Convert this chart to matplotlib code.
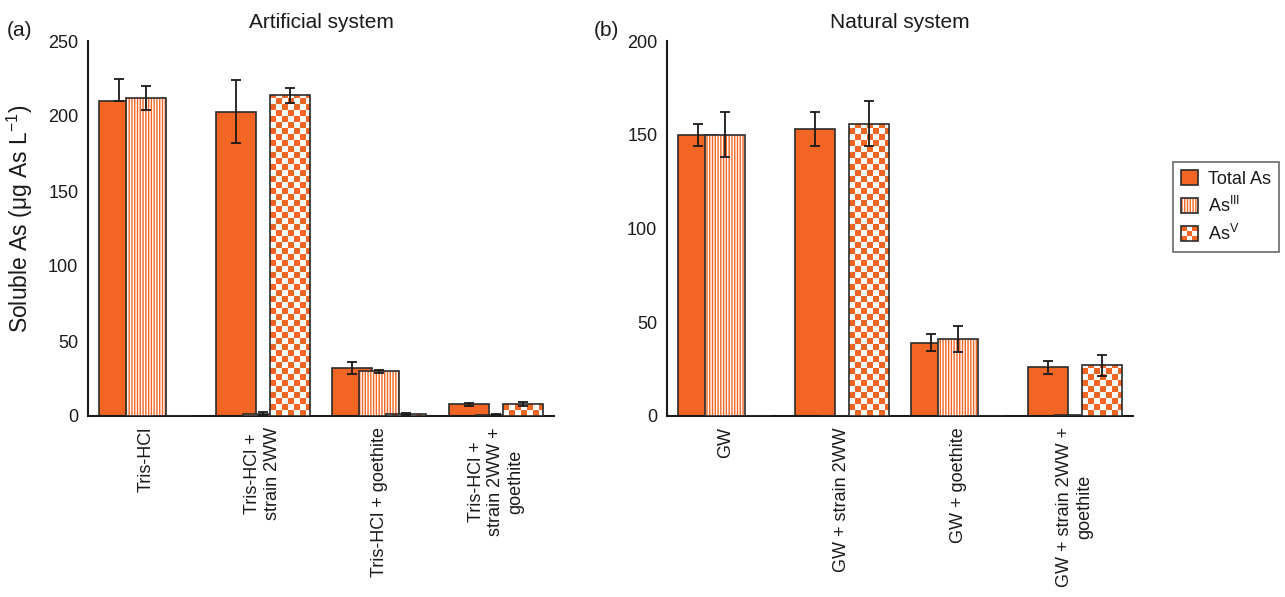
import numpy as np
import matplotlib
matplotlib.use('Agg')
import matplotlib.pyplot as plt
from matplotlib.colors import ListedColormap
from matplotlib.patches import Patch, Rectangle
from matplotlib.legend_handler import HandlerBase

plt.rcParams['font.family'] = ['Liberation Sans', 'DejaVu Sans']
plt.rcParams['mathtext.fontset'] = 'custom'
plt.rcParams['mathtext.rm'] = 'Liberation Sans'
plt.rcParams['hatch.linewidth'] = 1.0

ORANGE = '#f26522'
EDGE = '#2b2b2b'
INK = '#1a1a1a'

# (a) artificial system
cats_a = ['Tris-HCl', 'Tris-HCl +\nstrain 2WW', 'Tris-HCl + goethite',
          'Tris-HCl +\nstrain 2WW +\ngoethite']
total_a = [210, 203, 32, 8]
total_a_err = [[0, 21, 4, 1], [15, 21, 4, 1]]   # lower, upper
as3_a = [212, 1.5, 30, 1]
as3_a_err = [8, 1, 1, 0.5]
as5_a = [0, 214, 1.5, 8]
as5_a_err = [0, 5, 0.5, 1.5]

# (b) natural system
cats_b = ['GW', 'GW + strain 2WW', 'GW + goethite',
          'GW + strain 2WW +\ngoethite']
total_b = [150, 153, 39, 26]
total_b_err = [6, 9, 4.5, 3.5]
as3_b = [150, 0, 41, 0.5]
as3_b_err = [12, 0, 7, 0]
as5_b = [0, 156, 0, 27]
as5_b_err = [0, 12, 0, 5.5]

labels = ['Total As', r'As$^{\mathrm{III}}$', r'As$^{\mathrm{V}}$']

W, H = 1285, 597
fig = plt.figure(figsize=(W / 100, H / 100), dpi=100)


def box(left, top, right, bottom):
    return [left / W, 1 - bottom / H, (right - left) / W, (bottom - top) / H]


ax_a = fig.add_axes(box(88, 41, 554, 416))
ax_b = fig.add_axes(box(667, 41, 1133, 416))

WIDTH = 0.343
STEP = 0.232
STRIPES = '||||||'


def checker(ax, bar, z, px=6):
    h = bar.get_height()
    if h <= 0:
        return
    x0, x1 = ax.get_xlim()
    y0, y1 = ax.get_ylim()
    sx = px * (x1 - x0) / ax.bbox.width
    sy = px * (y1 - y0) / ax.bbox.height
    nx = int(np.ceil(bar.get_width() / sx))
    ny = int(np.ceil(h / sy))
    grid = np.add.outer(np.arange(ny), np.arange(nx)) % 2
    left = bar.get_x()
    im = ax.imshow(grid, extent=(left, left + nx * sx, 0, ny * sy),
                   origin='lower', cmap=ListedColormap(['white', ORANGE]),
                   interpolation='nearest', aspect='auto', zorder=z)
    im.set_clip_path(bar)


def panel(ax, cats, series, errs, ymax, step):
    x = np.arange(len(cats)) + 0.5
    ax.set_xlim(0, len(cats))
    ax.set_ylim(0, ymax)
    for k, (vals, err) in enumerate(zip(series, errs)):
        xs = x + (k - 1) * STEP
        vals = np.asarray(vals, dtype=float)
        z = 2 + k
        if k == 0:
            bars = ax.bar(xs, vals, WIDTH, color=ORANGE, linewidth=0, zorder=z)
        elif k == 1:
            bars = ax.bar(xs, vals, WIDTH, color='white', edgecolor=ORANGE,
                          linewidth=0, hatch=STRIPES, zorder=z)
        else:
            bars = ax.bar(xs, vals, WIDTH, color='white', linewidth=0, zorder=z)
            for b in bars:
                checker(ax, b, z + 0.05)
        ax.bar(xs, vals, WIDTH, fill=False, edgecolor=EDGE, linewidth=1.2,
               zorder=z + 0.1)
        err = np.asarray(err, dtype=float)
        lo, hi = (err, err) if err.ndim == 1 else (err[0], err[1])
        m = (lo > 0) | (hi > 0)
        ax.errorbar(xs[m], vals[m], yerr=[lo[m], hi[m]], fmt='none',
                    ecolor=INK, elinewidth=1.3, capsize=3.5, capthick=1.3,
                    zorder=z + 0.2)
    ax.set_xlim(0, len(cats))
    ax.set_ylim(0, ymax)
    ax.set_yticks(np.arange(0, ymax + 1, step))
    ax.set_xticks(x)
    ax.set_xticklabels(cats, rotation=90, ha='center', va='top',
                       multialignment='center', fontsize=12.5,
                       linespacing=1.2)
    ax.tick_params(length=0, colors=INK, labelsize=13)
    ax.tick_params(axis='y', pad=7)
    ax.tick_params(axis='x', pad=8)
    for s in ('top', 'right'):
        ax.spines[s].set_visible(False)
    for s in ('left', 'bottom'):
        ax.spines[s].set_linewidth(1.5)
        ax.spines[s].set_color(INK)


panel(ax_a, cats_a, [total_a, as3_a, as5_a],
      [total_a_err, as3_a_err, as5_a_err], 250, 50)
panel(ax_b, cats_b, [total_b, as3_b, as5_b],
      [total_b_err, as3_b_err, as5_b_err], 200, 50)

fig.text(321 / W, 1 - 22 / H, 'Artificial system', ha='center', va='center',
         fontsize=15, color=INK)
fig.text(900 / W, 1 - 22 / H, 'Natural system', ha='center', va='center',
         fontsize=15, color=INK)
fig.text(20 / W, 1 - 30 / H, '(a)', ha='center', va='center', fontsize=15,
         color=INK)
fig.text(606 / W, 1 - 31 / H, '(b)', ha='center', va='center', fontsize=15,
         color=INK)
fig.text(20 / W, 1 - 219 / H, 'Soluble As (μg As L$^{-1}$)', rotation=90,
         ha='center', va='center', fontsize=16.5, color=INK)


class CheckerKey:
    pass


class HandlerChecker(HandlerBase):
    def create_artists(self, legend, orig_handle, xdescent, ydescent,
                       width, height, fontsize, trans):
        n = 3
        arts = []
        for i in range(n):
            for j in range(n):
                c = ORANGE if (i + j) % 2 == 0 else 'white'
                arts.append(Rectangle((-xdescent + i * width / n,
                                       -ydescent + j * height / n),
                                      width / n, height / n, facecolor=c,
                                      edgecolor='none', transform=trans))
        arts.append(Rectangle((-xdescent, -ydescent), width, height,
                              fill=False, edgecolor=EDGE, linewidth=1.2,
                              transform=trans))
        return arts


handles = [
    Patch(facecolor=ORANGE, edgecolor=EDGE, linewidth=1.2),
    (Patch(facecolor='white', edgecolor=ORANGE, linewidth=0, hatch=STRIPES),
     Patch(fill=False, edgecolor=EDGE, linewidth=1.2)),
    CheckerKey(),
]
leg = fig.legend(handles, labels, loc='center',
                 bbox_to_anchor=(1226 / W, 1 - 207 / H),
                 handler_map={CheckerKey: HandlerChecker()},
                 handlelength=0.9, handleheight=0.9, fontsize=13,
                 frameon=True, fancybox=False, edgecolor='#444444',
                 borderpad=0.45, labelspacing=0.45, handletextpad=0.55,
                 borderaxespad=0)
leg.get_frame().set_linewidth(1.2)
for t in leg.get_texts():
    t.set_color(INK)

fig.savefig('out.png', dpi=100)
